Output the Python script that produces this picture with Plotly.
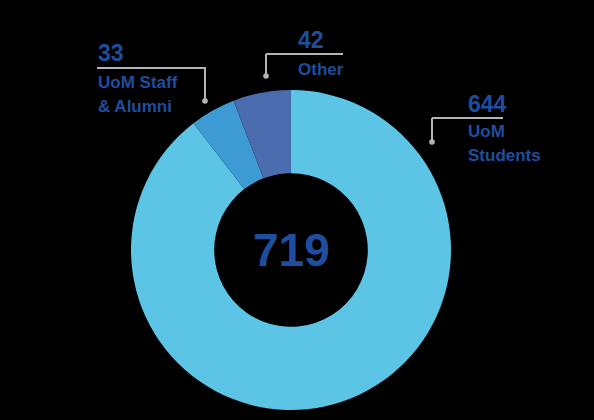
import plotly.graph_objects as go

# ---- data ----
labels = ["UoM Students", "UoM Staff & Alumni", "Other"]
values = [644, 33, 42]
label_lines = [["UoM", "Students"], ["UoM Staff", "& Alumni"], ["Other"]]

# ---- styles ----
slice_colors = ["#5CC4E5", "#3D9AD2", "#4A6BAE"]
text_color = "#1F4E9E"
line_color = "#B4B4B4"
W, H = 594, 420

fig = go.Figure()

# donut: centre (291,250) px, outer radius 160 px
cx, cy, r = 291, 250, 160
fig.add_trace(go.Pie(
    labels=labels, values=values, sort=False, direction="clockwise", rotation=0,
    hole=0.48, marker=dict(colors=slice_colors, line=dict(width=0)),
    textinfo="none", hoverinfo="label+value", showlegend=False,
    domain=dict(x=[(cx - r) / W, (cx + r) / W], y=[(H - cy - r) / H, (H - cy + r) / H]),
))

# invisible pixel axes for callouts
fig.add_trace(go.Scatter(x=[0], y=[0], mode="markers", marker=dict(opacity=0), hoverinfo="skip", showlegend=False))

# callout layout
callouts = {
    "UoM Students": dict(tx=466, ny=104, ly=118, x0=432, x1=503, dx=432, dy=142, lab_y=131),
    "UoM Staff & Alumni": dict(tx=96, ny=53, ly=68, x0=97, x1=206, dx=205, dy=101, lab_y=82),
    "Other": dict(tx=296, ny=40, ly=54, x0=266, x1=343, dx=266, dy=76, lab_y=69),
}

shapes = []
annotations = []
for lab, val, lines in zip(labels, values, label_lines):
    c = callouts[lab]
    shapes.append(dict(type="line", x0=c["x0"], x1=c["x1"], y0=c["ly"], y1=c["ly"],
                       line=dict(color=line_color, width=2)))
    shapes.append(dict(type="line", x0=c["dx"], x1=c["dx"], y0=c["ly"], y1=c["dy"],
                       line=dict(color=line_color, width=2)))
    shapes.append(dict(type="circle", x0=c["dx"] - 2.8, x1=c["dx"] + 2.8, y0=c["dy"] - 2.8, y1=c["dy"] + 2.8,
                       fillcolor=line_color, line=dict(width=0)))
    annotations.append(dict(x=c["tx"], y=c["ny"], text=f"<b>{val}</b>", showarrow=False,
                            xanchor="left", yanchor="middle",
                            font=dict(family="Liberation Sans", size=23, color=text_color)))
    for i, t in enumerate(lines):
        annotations.append(dict(x=c["tx"], y=c["lab_y"] + i * 24, text=f"<b>{t}</b>", showarrow=False,
                                xanchor="left", yanchor="middle",
                                font=dict(family="Liberation Sans", size=17, color=text_color)))

annotations.append(dict(x=cx, y=cy, text=f"<b>{sum(values)}</b>", showarrow=False,
                        xanchor="center", yanchor="middle",
                        font=dict(family="Liberation Sans", size=46, color=text_color)))

fig.update_layout(
    width=W, height=H, margin=dict(l=0, r=0, t=0, b=0),
    paper_bgcolor="#000000", plot_bgcolor="rgba(0,0,0,0)",
    xaxis=dict(range=[0, W], visible=False, fixedrange=True),
    yaxis=dict(range=[H, 0], visible=False, fixedrange=True),
    shapes=shapes, annotations=annotations,
)

fig.write_html("out.html", config={"displayModeBar": False},
               post_script="document.body.style.margin='0';document.body.style.background='#000';")
